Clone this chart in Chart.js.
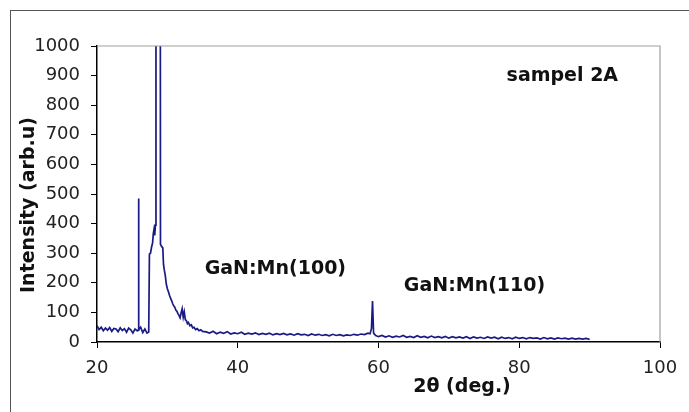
<!DOCTYPE html>
<html>
<head>
<meta charset="utf-8">
<script src="https://cdn.jsdelivr.net/npm/chart.js@4/dist/chart.umd.min.js"></script>
<style>
  html, body { margin: 0; padding: 0; background: #fff; }
  #wrap { width: 689px; height: 412px; }
</style>
</head>
<body>
<div id="wrap"><canvas id="xrd" width="689" height="412"></canvas></div>
<script>
// 2theta positions (deg.)
const twoTheta = [
  20.0, 20.3, 20.6, 20.9, 21.2, 21.5, 21.8, 22.1, 22.4, 22.7, 23.0, 23.3, 23.6, 23.9, 24.2, 24.5, 24.8, 25.1, 25.4, 25.7,
  25.85, 25.9, 25.95, 26.2, 26.5, 26.8, 27.1, 27.35, 27.45, 27.6, 27.75, 27.9, 28.0, 28.1, 28.2, 28.3, 28.38, 28.95, 29.02, 29.2, 29.35, 29.45, 29.55, 29.7, 29.85, 30.0,
  30.15, 30.3, 30.45, 30.6, 30.75, 30.9, 31.05, 31.2, 31.35, 31.5, 31.65, 31.8, 31.95, 32.1, 32.25, 32.4, 32.55, 32.7, 32.85, 33.0, 33.2, 33.4, 33.6, 33.8, 34.0, 34.25, 34.5, 34.75, 35.0,
  35.5, 36.0, 36.5, 37.0, 37.5, 38.0, 38.5, 39.0, 39.5, 40.0,
  40.5, 41.0, 41.5, 42.0, 42.5, 43.0, 43.5, 44.0, 44.5, 45.0,
  45.5, 46.0, 46.5, 47.0, 47.5, 48.0, 48.5, 49.0, 49.5, 50.0,
  50.5, 51.0, 51.5, 52.0, 52.5, 53.0, 53.5, 54.0, 54.5, 55.0,
  55.5, 56.0, 56.5, 57.0, 57.5, 58.0, 58.5,
  58.8, 59.0, 59.15, 59.3, 59.6,
  60.0, 60.5, 61.0, 61.5, 62.0, 62.5, 63.0, 63.5, 64.0, 64.5,
  65.0, 65.5, 66.0, 66.5, 67.0, 67.5, 68.0, 68.5, 69.0, 69.5,
  70.0, 70.5, 71.0, 71.5, 72.0, 72.5, 73.0, 73.5, 74.0, 74.5,
  75.0, 75.5, 76.0, 76.5, 77.0, 77.5, 78.0, 78.5, 79.0, 79.5,
  80.0, 80.5, 81.0, 81.5, 82.0, 82.5, 83.0, 83.5, 84.0, 84.5,
  85.0, 85.5, 86.0, 86.5, 87.0, 87.5, 88.0, 88.5, 89.0, 89.5,
  90.0
];

// intensity (arb.u), same order as twoTheta
const intensity = [
  55, 42, 50, 38, 47, 40, 49, 36, 46, 44, 35, 48, 39, 45, 33, 47, 41, 30, 44, 38,
  40, 485, 42, 50, 32, 44, 30, 34, 297, 300, 320, 335, 365, 380, 360, 395, 3000, 3000, 330, 322, 318, 262, 245, 225, 195, 180,
  170, 158, 148, 140, 130, 122, 118, 108, 104, 96, 90, 82, 98, 112, 84, 102, 76, 72, 62, 66, 55, 58, 48, 50, 42, 45, 38, 41, 36,
  34, 30, 36, 28, 33, 29, 35, 27, 31, 28,
  33, 26, 30, 27, 31, 25, 29, 26, 30, 24,
  28, 25, 29, 24, 27, 23, 28, 24, 26, 22,
  27, 23, 26, 22, 25, 21, 26, 22, 25, 21,
  24, 22, 26, 23, 27, 25, 30,
  28, 45, 138, 30, 22,
  18, 22, 17, 21, 16, 20, 17, 22, 16, 19,
  15, 21, 16, 19, 14, 20, 15, 18, 14, 19,
  13, 18, 14, 17, 13, 18, 12, 17, 13, 16,
  12, 17, 13, 16, 11, 16, 12, 15, 11, 16,
  12, 15, 11, 15, 12, 14, 10, 15, 11, 14,
  10, 14, 11, 13, 10, 13, 10, 12, 10, 12,
  9
];

const xTicks = [20, 40, 60, 80, 100];
const yTicks = [0, 100, 200, 300, 400, 500, 600, 700, 800, 900, 1000];

// peak labels, anchored in data units
const labelText = ['GaN:Mn(100)', 'GaN:Mn(110)', 'sampel 2A'];
const labelX = [35.3, 63.6, 78.2];
const labelY = [229, 172, 882];

const points = twoTheta.map((t, i) => ({ x: t, y: intensity[i] }));

const decor = {
  id: 'decor',
  beforeDraw(chart) {
    const c = chart.ctx;
    c.save();
    c.fillStyle = '#fff';
    c.fillRect(0, 0, chart.width, chart.height);
    // outer frame
    c.strokeStyle = '#555';
    c.lineWidth = 1;
    c.strokeRect(10.5, 10.5, 720, 440);
    c.restore();
  },
  afterDraw(chart) {
    const c = chart.ctx;
    const a = chart.chartArea;
    const xs = chart.scales.x, ys = chart.scales.y;
    c.save();
    // plot area top / right border
    c.strokeStyle = '#a0a0a0';
    c.lineWidth = 1.2;
    c.beginPath();
    c.moveTo(a.left, a.top);
    c.lineTo(a.right, a.top);
    c.lineTo(a.right, a.bottom);
    c.stroke();

    c.fillStyle = '#111';
    c.font = 'bold 19px "DejaVu Sans"';
    c.textAlign = 'left';
    c.textBaseline = 'alphabetic';
    for (let i = 0; i < labelText.length; i++) {
      c.fillText(labelText[i], xs.getPixelForValue(labelX[i]), ys.getPixelForValue(labelY[i]));
    }

    // axis titles
    c.textAlign = 'center';
    c.fillText('2\u03b8 (deg.)', 462, 392);
    c.translate(34, 205);
    c.rotate(-Math.PI / 2);
    c.fillText('Intensity (arb.u)', 0, 0);
    c.restore();
  }
};

new Chart(document.getElementById('xrd'), {
  type: 'line',
  data: {
    datasets: [{
      data: points,
      borderColor: '#1a1a84',
      borderWidth: 1.7,
      pointRadius: 0,
      tension: 0,
      fill: false
    }]
  },
  options: {
    responsive: false,
    animation: false,
    layout: { padding: { left: 0, right: 29, top: 46, bottom: 0 } },
    plugins: { legend: { display: false }, tooltip: { enabled: false } },
    scales: {
      x: {
        type: 'linear',
        min: 20,
        max: 100,
        afterFit(s) { s.height = 70; },
        afterBuildTicks(s) { s.ticks = xTicks.map(v => ({ value: v })); },
        ticks: { color: '#222', font: { family: 'DejaVu Sans', size: 18 }, padding: 10, maxRotation: 0,
                 callback: v => String(v) },
        grid: { drawOnChartArea: false, drawTicks: true, tickLength: 6, color: '#000' },
        border: { display: true, color: '#000', width: 1.5 }
      },
      y: {
        type: 'linear',
        min: 0,
        max: 1000,
        afterFit(s) { s.width = 97; },
        afterBuildTicks(s) { s.ticks = yTicks.map(v => ({ value: v })); },
        ticks: { color: '#222', font: { family: 'DejaVu Sans', size: 18 }, padding: 11,
                 callback: v => String(v) },
        grid: { drawOnChartArea: false, drawTicks: true, tickLength: 6, color: '#000' },
        border: { display: true, color: '#000', width: 1.5 }
      }
    }
  },
  plugins: [decor]
});
</script>
</body>
</html>
